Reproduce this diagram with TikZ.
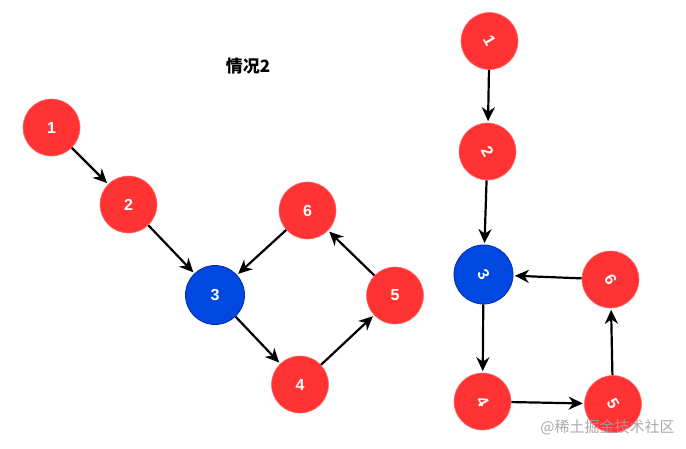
\documentclass[tikz,border=0pt]{standalone}
\usepackage{fontspec}
\setmainfont{Liberation Sans}
\newfontfamily\cjk{Noto Sans CJK SC}
\usetikzlibrary{arrows.meta}
\definecolor{nred}{RGB}{255,51,51}
\definecolor{nredb}{RGB}{255,110,110}
\definecolor{nblue}{RGB}{0,72,225}
\definecolor{nblueb}{RGB}{0,45,165}
\definecolor{wmark}{RGB}{160,160,160}
\tikzset{
  rnode/.style={circle,fill=nred,draw=nredb,line width=0.6pt,minimum size=57pt,inner sep=0pt,
    text=white,font=\fontsize{16}{16}\selectfont\bfseries},
  bnode/.style={rnode,fill=nblue,draw=nblueb,line width=0.8pt,minimum size=59pt},
  arr/.style={line width=2.2pt,-{Stealth[length=14pt,width=13pt,inset=4.5pt]},shorten >=1.5pt}
}
\begin{document}
\begin{tikzpicture}[x=1pt,y=-1pt]
\useasboundingbox (0,0) rectangle (686,448);
\fill[white] (0,0) rectangle (686,448);
% title
\node[font=\cjk\fontsize{17}{17}\selectfont\bfseries] (title) at (248,66) {情况2};
% left graph
\node[rnode] (a1) at (51.5,127.5) {1};
\node[rnode] (a2) at (128.5,204.5) {2};
\node[bnode] (a3) at (215,295) {3};
\node[rnode] (a4) at (300,384.5) {4};
\node[rnode] (a5) at (395,295.5) {5};
\node[rnode] (a6) at (307.5,210.5) {6};
\draw[arr] (a1) -- (a2);
\draw[arr] (a2) -- (a3);
\draw[arr] (a6) -- (a3);
\draw[arr] (a3) -- (a4);
\draw[arr] (a4) -- (a5);
\draw[arr] (a5) -- (a6);
% right graph
\node[rnode] (b1) at (489.5,41) {\rotatebox{-60}{1}};
\node[rnode] (b2) at (487.5,151.5) {\rotatebox{-60}{2}};
\node[bnode] (b3) at (483.5,274.5) {\rotatebox{-60}{3}};
\node[rnode] (b4) at (482.5,401.5) {\rotatebox{-60}{4}};
\node[rnode] (b5) at (613,404) {\rotatebox{-60}{5}};
\node[rnode] (b6) at (610.5,279.5) {\rotatebox{-60}{6}};
\draw[arr] (b1) -- (b2);
\draw[arr] (b2) -- (b3);
\draw[arr] (b3) -- (b4);
\draw[arr] (b4) -- (b5);
\draw[arr] (b5) -- (b6);
\draw[arr] (b6) -- (b3);
% watermark
\node[font=\cjk\fontsize{15}{15}\selectfont,text=wmark,opacity=0.9] (wm) at (607.5,427) {@稀土掘金技术社区};
\end{tikzpicture}
\end{document}
